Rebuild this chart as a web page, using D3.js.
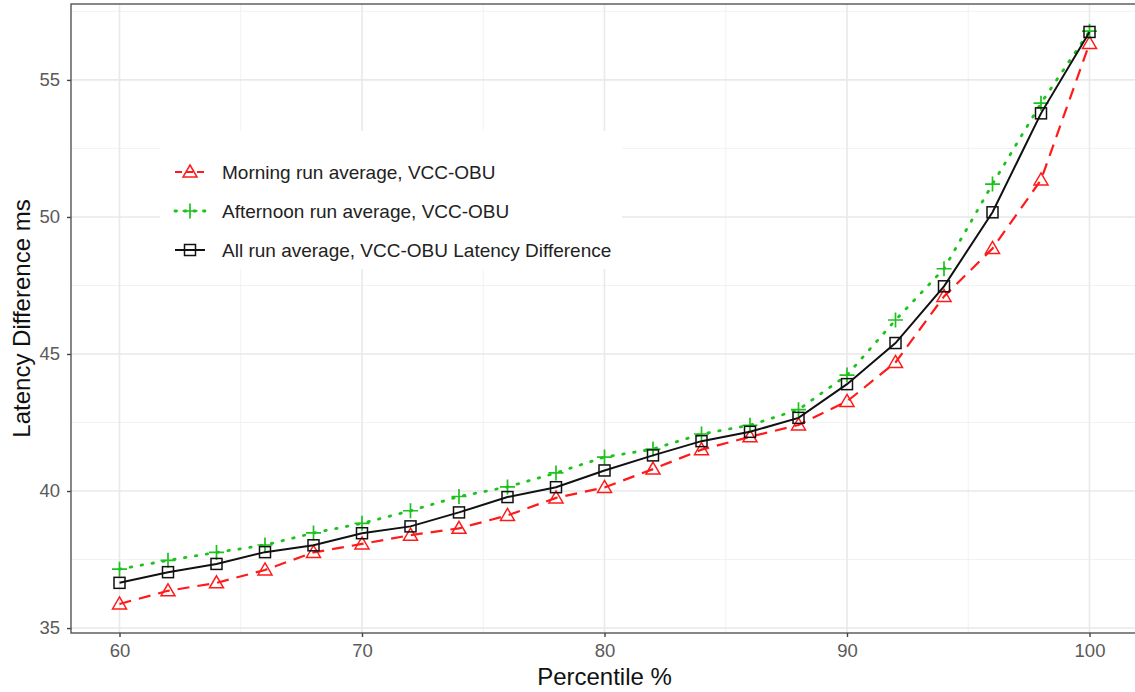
<!DOCTYPE html>
<html>
<head>
<meta charset="utf-8">
<script src="https://cdn.jsdelivr.net/npm/d3@7"></script>
<style>
  body { margin: 0; background: #fff; }
  svg { display: block; font-family: "Liberation Sans", Arial, sans-serif; }
</style>
</head>
<body>
<div id="chart"></div>
<script>
// data
var percentiles = [60, 62, 64, 66, 68, 70, 72, 74, 76, 78, 80, 82, 84, 86, 88, 90, 92, 94, 96, 98, 100];
var morning   = [35.88, 36.36, 36.65, 37.12, 37.76, 38.07, 38.39, 38.64, 39.11, 39.75, 40.13, 40.80, 41.51, 41.98, 42.41, 43.27, 44.69, 47.10, 48.85, 51.35, 56.33];
var afternoon = [37.15, 37.47, 37.76, 38.03, 38.47, 38.82, 39.28, 39.80, 40.15, 40.66, 41.24, 41.53, 42.08, 42.40, 42.97, 44.23, 46.24, 48.11, 51.20, 54.15, 56.78];
var allRuns   = [36.65, 37.04, 37.34, 37.77, 38.02, 38.46, 38.71, 39.22, 39.78, 40.14, 40.75, 41.30, 41.82, 42.16, 42.67, 43.90, 45.40, 47.47, 50.17, 53.78, 56.75];
var xTicks = [60, 70, 80, 90, 100];
var yTicks = [35, 40, 45, 50, 55];
var xMinor = [65, 75, 85, 95];
var yMinor = [37.5, 42.5, 47.5, 52.5, 57.5];
var legendLabels = ["Morning run average, VCC-OBU", "Afternoon run average, VCC-OBU", "All run average, VCC-OBU Latency Difference"];

var W = 1135, H = 692;
var pLeft = 71, pTop = 4, pRight = 1138, pBottom = 633;

var svg = d3.select("#chart").append("svg").attr("width", W).attr("height", H);

var x = d3.scaleLinear().domain([58, 102]).range([pLeft, pRight]);
var y = d3.scaleLinear().domain([34.82, 57.77]).range([pBottom, pTop]);

var g = svg.append("g");

// grid
g.selectAll(".ymin").data(yMinor).enter().append("line")
  .attr("x1", pLeft).attr("x2", pRight).attr("y1", function(d){ return y(d); }).attr("y2", function(d){ return y(d); })
  .style("stroke", "#f2f2f2").style("stroke-width", 1);
g.selectAll(".xmin").data(xMinor).enter().append("line")
  .attr("y1", pTop).attr("y2", pBottom).attr("x1", function(d){ return x(d); }).attr("x2", function(d){ return x(d); })
  .style("stroke", "#f2f2f2").style("stroke-width", 1);
g.selectAll(".ymaj").data(yTicks).enter().append("line")
  .attr("x1", pLeft).attr("x2", pRight).attr("y1", function(d){ return y(d); }).attr("y2", function(d){ return y(d); })
  .style("stroke", "#e9e9e9").style("stroke-width", 1.6);
g.selectAll(".xmaj").data(xTicks).enter().append("line")
  .attr("y1", pTop).attr("y2", pBottom).attr("x1", function(d){ return x(d); }).attr("x2", function(d){ return x(d); })
  .style("stroke", "#e9e9e9").style("stroke-width", 1.6);

// series
var series = [
  {vals: morning, color: "#ff1a1a", dash: "12 8", legDash: "7 4", width: 2.2, shape: "tri"},
  {vals: afternoon, color: "#1ec21e", dash: "1.5 9.5", legDash: "1.5 8", width: 2.8, shape: "plus", cap: "round"},
  {vals: allRuns, color: "#111", dash: null, width: 2, shape: "sq"}
];

var line = d3.line().x(function(d, i){ return x(percentiles[i]); }).y(function(d){ return y(d); });

function drawMarker(sel, shape, color) {
  if (shape === "tri") {
    sel.append("path").attr("d", "M0,-7L7,5L-7,5Z")
      .style("fill", "none").style("stroke", color).style("stroke-width", 1.5);
  } else if (shape === "plus") {
    sel.append("path").attr("d", "M-7.5,0H7.5M0,-7.5V7.5")
      .style("fill", "none").style("stroke", color).style("stroke-width", 1.7);
  } else {
    sel.append("rect").attr("x", -5.5).attr("y", -5.5).attr("width", 11).attr("height", 11)
      .style("fill", "none").style("stroke", color).style("stroke-width", 1.5);
  }
}

series.forEach(function(s) {
  g.append("path").datum(s.vals).attr("d", line)
    .style("fill", "none").style("stroke", s.color).style("stroke-width", s.width)
    .style("stroke-dasharray", s.dash).style("stroke-linecap", s.cap || "butt");
  s.vals.forEach(function(v, i) {
    drawMarker(g.append("g").attr("transform", "translate(" + x(percentiles[i]) + "," + y(v) + ")"), s.shape, s.color);
  });
});

// legend
var lg = svg.append("g");
lg.append("rect").attr("x", 160).attr("y", 131).attr("width", 462).attr("height", 138).style("fill", "#fff");
legendLabels.forEach(function(t, i) {
  var s = series[i], ly = 172 + i * 39;
  lg.append("line").attr("x1", 175).attr("x2", 205).attr("y1", ly).attr("y2", ly)
    .style("stroke", s.color).style("stroke-width", s.width).style("stroke-dasharray", s.legDash || null)
    .style("stroke-linecap", s.cap || "butt");
  drawMarker(lg.append("g").attr("transform", "translate(190," + ly + ")"), s.shape, s.color);
  lg.append("text").attr("x", 222).attr("y", ly + 6.5).text(t)
    .style("font-size", "19px").style("fill", "#222");
});

// panel border
svg.append("rect").attr("x", pLeft).attr("y", pTop).attr("width", pRight - pLeft).attr("height", pBottom - pTop)
  .style("fill", "none").style("stroke", "#555").style("stroke-width", 1.4);

// axes
var xAxis = svg.append("g").attr("transform", "translate(0," + pBottom + ")")
  .call(d3.axisBottom(x).tickValues(xTicks).tickSize(4).tickPadding(7));
var yAxis = svg.append("g").attr("transform", "translate(" + pLeft + ",0)")
  .call(d3.axisLeft(y).tickValues(yTicks).tickSize(4).tickPadding(7));
[xAxis, yAxis].forEach(function(a) {
  a.select(".domain").remove();
  a.selectAll(".tick line").style("stroke", "#444").style("stroke-width", 1.4);
  a.selectAll(".tick text").style("font-size", "18.5px").style("fill", "#5a5a5a").style("font-family", "Liberation Sans, Arial, sans-serif");
});

svg.append("text").attr("x", (pLeft + pRight) / 2).attr("y", 685).attr("text-anchor", "middle")
  .text("Percentile %").style("font-size", "24px").style("fill", "#111");
svg.append("text").attr("transform", "translate(30," + ((pTop + pBottom) / 2) + ") rotate(-90)").attr("text-anchor", "middle")
  .text("Latency Difference ms").style("font-size", "24px").style("fill", "#111");
</script>
</body>
</html>
